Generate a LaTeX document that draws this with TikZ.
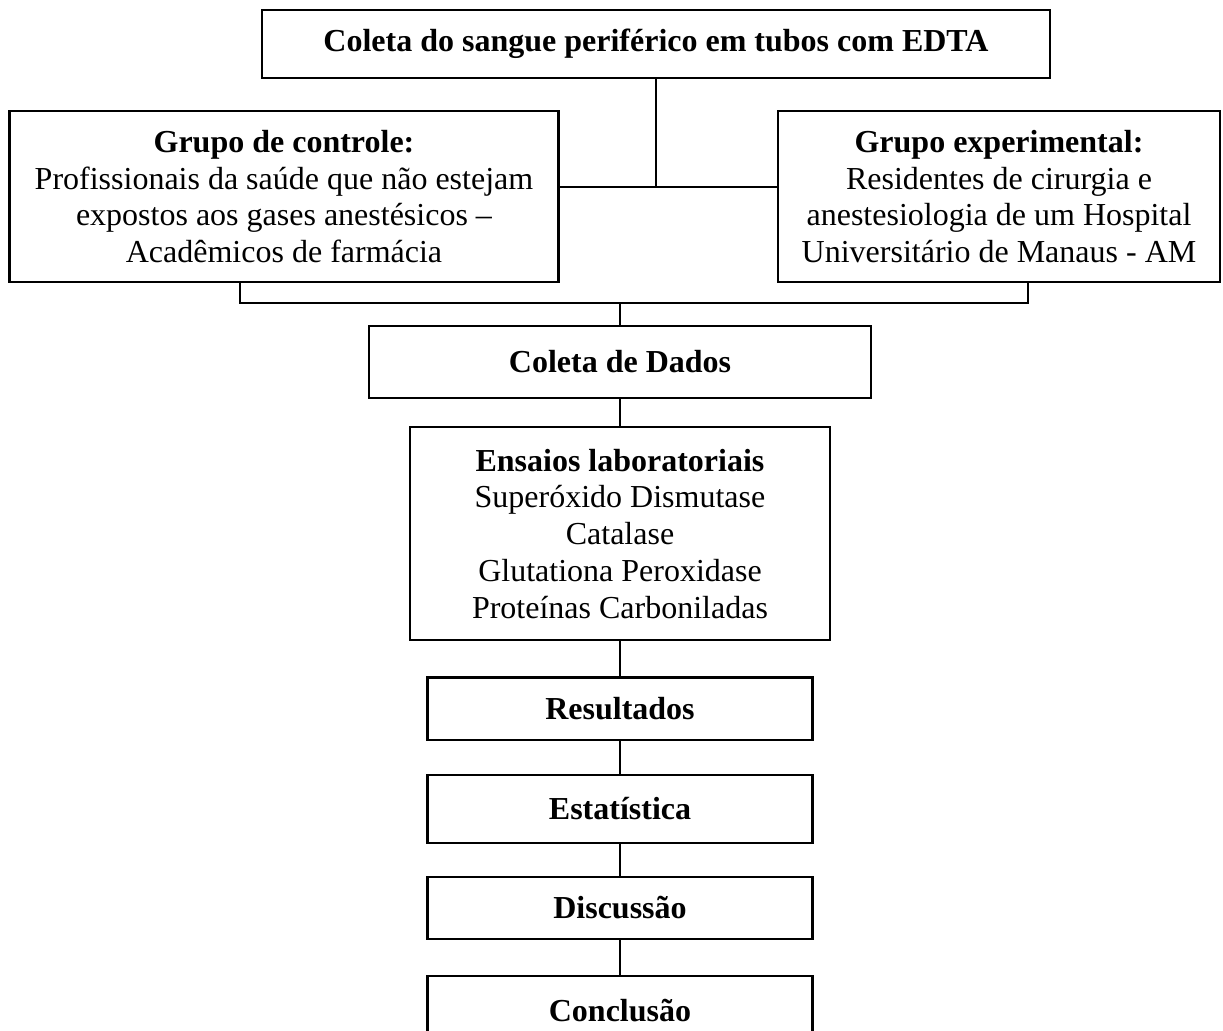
\documentclass[tikz,border=0pt]{standalone}
\usepackage{fontspec}
\setmainfont{Liberation Serif}
\usetikzlibrary{positioning}

\begin{document}
\begin{tikzpicture}[
    x=0.375pt, y=-0.375pt,
    font=\fontsize{12pt}{13.8pt}\selectfont,
    box/.style={rectangle, draw=black, line width=0.8pt, inner sep=2pt, align=center, text=black},
    etapa/.style={box, minimum width=144.4pt, minimum height=23.3pt},
    linha/.style={line width=0.75pt, black}
]
\useasboundingbox (0,0) rectangle (1223,1030);

% Coleta e grupos
\node[box, minimum width=295.5pt, minimum height=25.5pt] (coleta) at (656,44) {\textbf{Coleta do sangue periférico em tubos com EDTA}};
\node[box, minimum width=205.9pt, minimum height=64.1pt] (controle) at (284,196.5) {\textbf{Grupo de controle:}\\Profissionais da saúde que não estejam\\expostos aos gases anestésicos –\\Acadêmicos de farmácia};
\node[box, minimum width=165.8pt, minimum height=64.1pt] (experimental) at (999,196.5) {\textbf{Grupo experimental:}\\Residentes de cirurgia e\\anestesiologia de um Hospital\\Universitário de Manaus - AM};

% Etapas
\node[box, minimum width=188.3pt, minimum height=27pt] (dados) at (620,362) {\textbf{Coleta de Dados}};
\node[box, below=10.15pt of dados, minimum width=157.5pt, minimum height=79.9pt] (ensaios) {\textbf{Ensaios laboratoriais}\\Superóxido Dismutase\\Catalase\\Glutationa Peroxidase\\Proteínas Carboniladas};
\node[etapa, below=13.15pt of ensaios] (resultados) {\textbf{Resultados}};
\node[etapa, below=12.35pt of resultados, minimum height=25.5pt] (estatistica) {\textbf{Estatística}};
\node[etapa, below=12pt of estatistica] (discussao) {\textbf{Discussão}};
\node[etapa, below=13.15pt of discussao, minimum height=25.5pt] (conclusao) {\textbf{Conclusão}};

% Pontos de ligacao
\coordinate (juncao) at (657,187);
\coordinate (chave) at (620,303);
\coordinate (xesq) at (240,0);
\coordinate (xdir) at (1028,0);

% Linhas
\draw[linha] (coleta) -- (coleta |- juncao);
\draw[linha] (controle.east |- juncao) -- (experimental.west |- juncao);
\draw[linha] (controle.south -| xesq) |- (chave) -| (experimental.south -| xdir);
\draw[linha] (chave) -- (dados);
\draw[linha] (dados) -- (ensaios);
\draw[linha] (ensaios) -- (resultados);
\draw[linha] (resultados) -- (estatistica);
\draw[linha] (estatistica) -- (discussao);
\draw[linha] (discussao) -- (conclusao);

\end{tikzpicture}
\end{document}
